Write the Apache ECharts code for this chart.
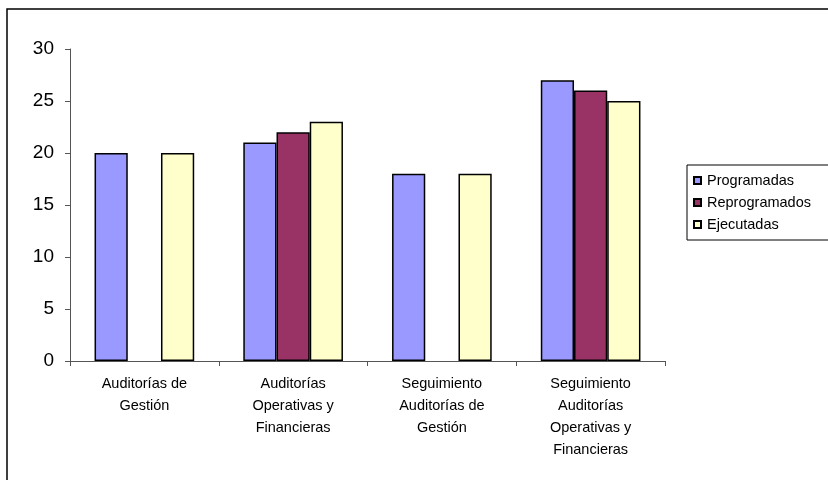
<!DOCTYPE html>
<html>
<head>
<meta charset="utf-8">
<script src="https://cdn.jsdelivr.net/npm/echarts@6/dist/echarts.min.js"></script>
<style>
  html, body { margin: 0; padding: 0; background: #fff; }
  #main { width: 828px; height: 480px; }
</style>
</head>
<body>
<div id="main"></div>
<script>
// categories and values
const categorias = [
  "Auditorías de\nGestión",
  "Auditorías\nOperativas y\nFinancieras",
  "Seguimiento\nAuditorías de\nGestión",
  "Seguimiento\nAuditorías\nOperativas y\nFinancieras",
];
const programadas = [20, 21, 18, 27];
const reprogramados = [null, 22, null, 26];
const ejecutadas = [20, 23, 18, 25];
const yTicks = [0, 5, 10, 15, 20, 25, 30];

const fuente = "'Liberation Sans', Arial, sans-serif";

const myChart = echarts.init(document.getElementById("main"));

function barra(nombre, datos, color) {
  return {
    name: nombre,
    type: "bar",
    data: datos,
    barGap: "0%",
    barCategoryGap: "33%",
    itemStyle: { color: color, borderColor: "#000", borderWidth: 1.5 },
    emphasis: { disabled: true },
  };
}

const option = {
  animation: false,
  backgroundColor: "#fff",
  textStyle: { fontFamily: fuente },
  graphic: [
    {
      type: "rect",
      shape: { x: 7, y: 9, width: 830, height: 480 },
      style: { fill: "none", stroke: "#000", lineWidth: 1.5 },
      silent: true,
    },
  ],
  legend: {
    orient: "vertical",
    left: 687,
    top: 165,
    padding: [8, 20, 8, 6],
    itemGap: 7,
    itemWidth: 7,
    itemHeight: 7,
    icon: "rect",
    borderColor: "#000",
    borderWidth: 1,
    textStyle: { fontSize: 14.5, color: "#000", fontFamily: fuente, padding: [0, 0, 0, 1] },
    data: ["Programadas", "Reprogramados", "Ejecutadas"],
  },
  grid: {
    left: 70,
    right: 163,
    top: 49,
    bottom: 119,
    containLabel: false,
  },
  xAxis: {
    type: "category",
    data: categorias,
    axisLine: { lineStyle: { color: "#555", width: 1 } },
    axisTick: { show: true, length: 5, lineStyle: { color: "#555" } },
    axisLabel: {
      color: "#000",
      fontSize: 14.5,
      lineHeight: 22,
      margin: 12,
      interval: 0,
      fontFamily: fuente,
    },
  },
  yAxis: {
    type: "value",
    min: yTicks[0],
    max: yTicks[yTicks.length - 1],
    interval: 5,
    splitLine: { show: false },
    axisLine: { show: true, lineStyle: { color: "#555", width: 1 } },
    axisTick: { show: true, length: 5, lineStyle: { color: "#555" } },
    axisLabel: { color: "#000", fontSize: 19, margin: 16, fontFamily: fuente },
  },
  series: [
    barra("Programadas", programadas, "#9999FF"),
    barra("Reprogramados", reprogramados, "#993366"),
    barra("Ejecutadas", ejecutadas, "#FFFFCC"),
  ],
};

option && myChart.setOption(option);
</script>
</body>
</html>
